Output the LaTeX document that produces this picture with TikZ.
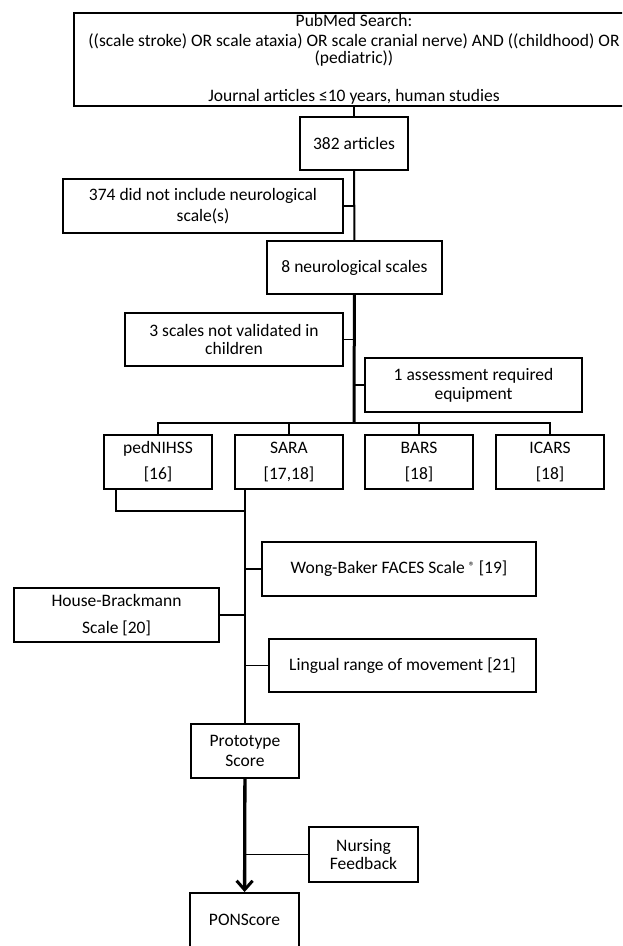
\documentclass[tikz,border=0pt]{standalone}
\usepackage{fontspec}
\setmainfont{Carlito}
\usepackage{tikz}
\usetikzlibrary{arrows.meta,positioning,calc}

\begin{document}
\begin{tikzpicture}[x=1pt,y=-1pt,
  every node/.style={font=\fontsize{17.5}{20}\selectfont,align=center,inner sep=0pt},
  box/.style={draw,line width=2pt},
  link/.style={line width=2pt},
  side/.style={line width=1.5pt}]
  \useasboundingbox (0,0) rectangle (622,946);
  \clip (0,0) rectangle (622,946);
  \node[box,minimum width=560pt,minimum height=93pt] (search) at (354,59.5) {PubMed Search:\\[0pt]((scale stroke) OR scale ataxia) OR scale cranial nerve) AND ((childhood) OR\\[-3pt](pediatric))\\[18pt]Journal articles ≤10 years, human studies};
  \node[box,minimum width=108pt,minimum height=53pt] (arts) at (354,143.5) {382 articles};
  \node[box,minimum width=280pt,minimum height=54pt] (noscale) at (203,206) {374 did not include neurological\\[1pt]scale(s)};
  \node[box,minimum width=175pt,minimum height=53pt] (scales) at (354.5,267.5) {8 neurological scales};
  \node[box,minimum width=218pt,minimum height=53pt] (notvalid) at (234,339.5) {3 scales not validated in\\[-2pt]children};
  \node[box,minimum width=217pt,minimum height=54pt] (equip) at (473.5,385) {1 assessment required\\[-1pt]equipment};
  \node[box,minimum width=108pt,minimum height=54pt] (ped) at (158,462) {pedNIHSS\\[6pt][16]};
  \node[box,minimum width=108pt,minimum height=54pt] (sara) at (289,462) {SARA\\[6pt][17,18]};
  \node[box,minimum width=108pt,minimum height=54pt] (bars) at (419,462) {BARS\\[6pt][18]};
  \node[box,minimum width=108pt,minimum height=54pt] (icars) at (550,462) {ICARS\\[6pt][18]};
  \node[box,minimum width=274pt,minimum height=54pt] (wong) at (399,569) {Wong-Baker FACES Scale {\fontsize{12}{12}\selectfont\raisebox{0.5ex}{®}} [19]};
  \node[box,minimum width=205pt,minimum height=54pt] (house) at (116.5,615) {House-Brackmann\\[7pt]Scale [20]};
  \node[box,minimum width=267pt,minimum height=53pt] (lingual) at (402.5,665.5) {Lingual range of movement [21]};
  \node[box,minimum width=108pt,minimum height=54pt] (proto) at (245,751) {Prototype\\Score};
  \node[box,minimum width=109pt,minimum height=55pt] (nurse) at (363.5,854.5) {Nursing\\[-2pt]Feedback};
  \node[box,minimum width=109pt,minimum height=54pt] (pons) at (244.5,920) {PONScore};
  \coordinate (br) at (354,423);
  \coordinate (pj) at (116,511);
  \draw[link] (search) -- (arts);
  \draw[link] (arts) -- (scales);
  \draw[side] (noscale) -- (noscale -| arts);
  \draw[line width=3pt] (scales) -- (br);
  \draw[side] (notvalid) -- (notvalid -| scales);
  \draw[side] (equip) -- (equip -| scales);
  \draw[link] (ped.north) -- (ped.north |- br) -- (icars.north |- br) -- (icars.north);
  \draw[link] (sara.north) -- (sara.north |- br);
  \draw[link] (bars.north) -- (bars.north |- br);
  \draw[link] (pj |- ped.south) -- (pj) -- (pj -| proto);
  \draw[link] (proto |- sara.south) -- (proto.north);
  \draw[side] (wong) -- (wong -| proto);
  \draw[side] (house) -- (house -| proto);
  \draw[side] (lingual) -- (lingual -| proto);
  \draw[line width=3.3pt,-{Straight Barb[length=9pt,width=16pt,line width=3pt]}] (proto) -- (pons);
  \draw[line width=1.3pt] (nurse) -- (nurse -| proto);
\end{tikzpicture}
\end{document}
